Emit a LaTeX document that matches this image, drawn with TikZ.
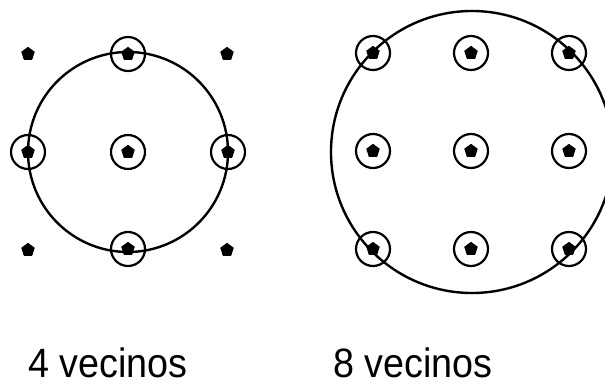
\documentclass[tikz,border=0pt]{standalone}
\usepackage{fontspec}
\setmainfont{Liberation Sans}
\usetikzlibrary{shapes.geometric}
\begin{document}
\begin{tikzpicture}[x=1pt,y=-1pt,
  dotpt/.style={regular polygon,regular polygon sides=5,fill=black,draw=black,line width=1pt,line join=round,inner sep=0pt,minimum size=13pt},
  ring/.style={circle,draw=black,line width=2.2pt,inner sep=0pt,minimum size=34pt},
  bigring/.style={circle,draw=black,line width=2.4pt,inner sep=0pt},
  lbl/.style={font=\fontsize{41}{48}\selectfont,anchor=base,inner sep=0pt}]
\useasboundingbox (0,0) rectangle (605,385);
\clip (0,0) rectangle (605,385);
% left diagram
\node[bigring,minimum size=200pt] (L) at (128,152) {};
\foreach \n/\x/\y in {lc/128/152, lt/128/54, lb/128/249, ll/28/152, lr/228/152}{
  \node[dotpt] (d\n) at (\x,\y) {};
  \node[ring] (r\n) at (\x,\y) {};
}
\foreach \n/\x/\y in {ltl/28/54, ltr/227/54, lbl/28/250, lbr/227/250}{
  \node[dotpt] (d\n) at (\x,\y) {};
}
% right diagram
\node[bigring,minimum size=282pt] (R) at (472,152) {};
\foreach \n/\x/\y in {a/373/53, b/471/53, c/569/53, d/373/151, e/471/151, f/569/151, g/373/249, h/471/249, i/569/249}{
  \node[dotpt] (d\n) at (\x,\y) {};
  \node[ring] (r\n) at (\x,\y) {};
}
\node[lbl] (t1) at (108,377) {\scalebox{0.92}[1]{4 vecinos}};
\node[lbl] (t2) at (413,377) {\scalebox{0.92}[1]{8 vecinos}};
\end{tikzpicture}
\end{document}
